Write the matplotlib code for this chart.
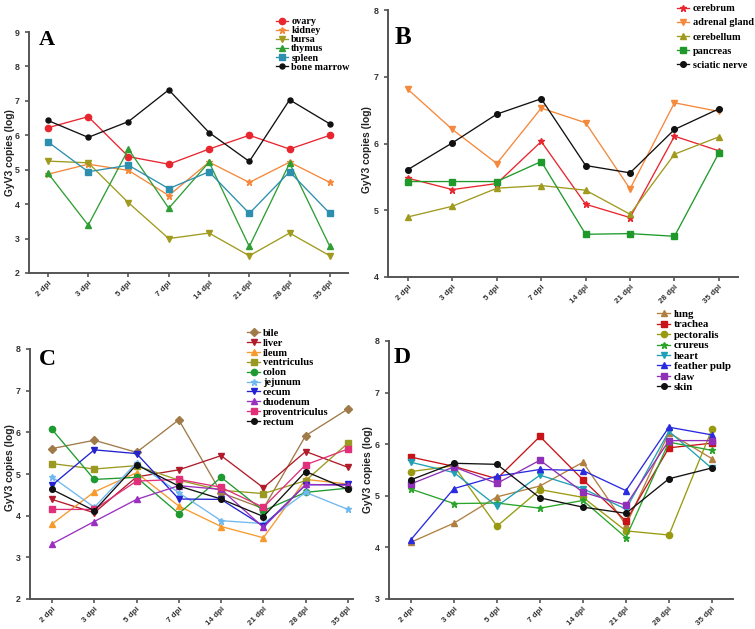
import matplotlib
matplotlib.use('Agg')
import matplotlib.pyplot as plt

days = ['2 dpi', '3 dpi', '5 dpi', '7 dpi', '14 dpi', '21 dpi', '28 dpi', '35 dpi']

# panel A
ovary = [6.22, 6.54, 5.38, 5.16, 5.60, 6.00, 5.60, 6.00]
kidney = [4.87, 5.16, 4.98, 4.25, 5.22, 4.63, 5.22, 4.63]
bursa = [5.25, 5.20, 4.04, 3.00, 3.16, 2.50, 3.16, 2.50]
thymus = [4.90, 3.39, 5.60, 3.88, 5.22, 2.77, 5.19, 2.77]
spleen = [5.81, 4.94, 5.13, 4.45, 4.94, 3.73, 4.94, 3.73]
bone_marrow = [6.43, 5.94, 6.40, 7.32, 6.08, 5.24, 7.03, 6.33]

# panel B
cerebrum = [5.48, 5.31, 5.40, 6.03, 5.09, 4.89, 6.11, 5.89]
adrenal = [6.81, 6.21, 5.70, 6.53, 6.31, 5.32, 6.61, 6.48]
cerebellum = [4.90, 5.06, 5.33, 5.37, 5.30, 4.94, 5.84, 6.10]
pancreas = [5.43, 5.43, 5.43, 5.73, 4.64, 4.65, 4.61, 5.86]
sciatic = [5.61, 6.01, 6.44, 6.67, 5.67, 5.56, 6.21, 6.52]

# panel C
bile = [5.61, 5.81, 5.52, 6.30, 4.55, 4.17, 5.92, 6.56]
liver = [4.39, 4.07, 4.93, 5.10, 5.44, 4.67, 5.54, 5.16]
ileum = [3.80, 4.57, 5.03, 4.23, 3.74, 3.47, 4.87, 4.76]
ventriculus = [5.25, 5.12, 5.20, 4.85, 4.61, 4.53, 4.84, 5.74]
colon = [6.07, 4.87, 4.92, 4.05, 4.92, 4.12, 4.56, 4.66]
jejunum = [4.93, 4.20, 5.27, 4.55, 3.88, 3.81, 4.56, 4.15]
cecum = [4.73, 5.58, 5.49, 4.40, 4.39, 3.75, 4.74, 4.75]
duodenum = [3.32, 3.86, 4.39, 4.72, 4.63, 3.72, 4.75, 4.73]
proventriculus = [4.15, 4.15, 4.83, 4.87, 4.68, 4.20, 5.22, 5.60]
rectum = [4.63, 4.12, 5.22, 4.71, 4.40, 3.98, 5.06, 4.63]

# panel D
lung = [4.10, 4.47, 4.98, 5.19, 5.65, 4.43, 6.22, 5.72]
trachea = [5.75, 5.57, 5.33, 6.15, 5.31, 4.51, 5.93, 6.02]
pectoralis = [5.47, 5.58, 4.41, 5.12, 4.97, 4.32, 4.24, 6.29]
crureus = [5.13, 4.85, 4.86, 4.76, 4.91, 4.19, 6.04, 5.88]
heart = [5.65, 5.45, 4.80, 5.40, 5.14, 4.74, 6.25, 5.53]
feather_pulp = [4.15, 5.14, 5.38, 5.51, 5.49, 5.10, 6.33, 6.18]
claw = [5.23, 5.56, 5.24, 5.69, 5.07, 4.82, 6.07, 6.07]
skin = [5.31, 5.63, 5.61, 4.96, 4.78, 4.66, 5.33, 5.54]

W, H = 755, 629
fig = plt.figure(figsize=(W / 100, H / 100), dpi=100)


def px_axes(l, r, t, b):
    return fig.add_axes([l / W, 1 - b / H, (r - l) / W, (b - t) / H])


def panel(ax, series, ylim, xlim, letter, let_xy, let_fs, leg_xy, leg_fs, leg_sp, ms=4.5):
    x = list(range(len(days)))
    for name, vals, col, mk, m in series:
        ax.plot(x, vals, color=col, marker=mk, markersize=ms * m, lw=0.95, label=name)
    ax.set_xlim(*xlim)
    ax.set_ylim(*ylim)
    ax.set_yticks(range(ylim[0], ylim[1] + 1))
    ax.set_xticks(x)
    ax.set_xticklabels(days, rotation=45, ha='right', rotation_mode='anchor')
    for s in ['top', 'right']:
        ax.spines[s].set_visible(False)
    for s in ['left', 'bottom']:
        ax.spines[s].set_color('#555555')
        ax.spines[s].set_linewidth(1.4)
    ax.tick_params(colors='#555555', length=3, width=1.2, labelsize=6.3)
    ax.tick_params(axis='x', labelsize=5.8, pad=2)
    for lab in ax.get_xticklabels() + ax.get_yticklabels():
        lab.set_fontweight('bold')
        lab.set_color('#333333')
        lab.set_family('Liberation Sans')
    fig.text(let_xy[0] / W, 1 - let_xy[1] / H, letter, fontsize=let_fs, fontweight='bold',
             family='Liberation Serif', va='top', ha='left')
    ax.legend(loc='upper left', bbox_to_anchor=(leg_xy[0] / W, 1 - leg_xy[1] / H),
              bbox_transform=fig.transFigure, frameon=False, borderpad=0,
              handlelength=1.2, handletextpad=0.3, labelspacing=leg_sp,
              prop={'family': 'Liberation Serif', 'weight': 'bold', 'size': leg_fs})


axA = px_axes(29, 348, 32, 273)
panel(axA, [
    ('ovary', ovary, '#e8262f', 'o', 1.0),
    ('kidney', kidney, '#f5883a', '*', 1.0),
    ('bursa', bursa, '#a09a1e', 'v', 1.0),
    ('thymus', thymus, '#2f9e34', '^', 1.0),
    ('spleen', spleen, '#2b8fad', 's', 1.0),
    ('bone marrow', bone_marrow, '#111111', 'o', 0.8),
], (2, 9), (-0.47, 7.45), 'A', (39, 30), 16, (271, 12), 7.3, 0.0)

axB = px_axes(388, 738, 10, 277)
panel(axB, [
    ('cerebrum', cerebrum, '#e8262f', '*', 1.0),
    ('adrenal gland', adrenal, '#f5883a', 'v', 1.0),
    ('cerebellum', cerebellum, '#a09a1e', '^', 1.0),
    ('pancreas', pancreas, '#1f9a2a', 's', 1.1),
    ('sciatic nerve', sciatic, '#111111', 'o', 0.9),
], (4, 8), (-0.45, 7.43), 'B', (395, 26), 18, (672, -1), 7.4, 0.48)

axC = px_axes(30, 353, 349, 599)
panel(axC, [
    ('bile', bile, '#a07a48', 'D', 0.8),
    ('liver', liver, '#b01c2a', 'v', 1.0),
    ('ileum', ileum, '#f79a2e', '^', 1.0),
    ('ventriculus', ventriculus, '#9a9a22', 's', 1.1),
    ('colon', colon, '#1e9a30', 'o', 1.0),
    ('jejunum', jejunum, '#6fb8f0', '*', 1.0),
    ('cecum', cecum, '#2222d0', 'v', 1.0),
    ('duodenum', duodenum, '#9a30c0', '^', 1.0),
    ('proventriculus', proventriculus, '#e0307a', 's', 1.0),
    ('rectum', rectum, '#111111', 'o', 0.9),
], (2, 8), (-0.52, 7.12), 'C', (39, 349), 17, (242, 323), 7.6, 0.05)

axD = px_axes(389, 733, 341, 599)
panel(axD, [
    ('lung', lung, '#b08040', '^', 1.0),
    ('trachea', trachea, '#c81418', 's', 1.1),
    ('pectoralis', pectoralis, '#9a9a10', 'o', 1.0),
    ('crureus', crureus, '#2aa52a', '*', 1.0),
    ('heart', heart, '#20a0b4', 'v', 1.0),
    ('feather pulp', feather_pulp, '#2a2ae0', '^', 1.0),
    ('claw', claw, '#9030b8', 's', 1.1),
    ('skin', skin, '#111111', 'o', 0.9),
], (3, 8), (-0.51, 7.49), 'D', (394, 347), 17, (652, 304), 7.8, 0.08)

ylab = 'GyV3 copies (log)'
for (xx, yy) in [(10, 153), (367, 150), (10, 468), (368, 470)]:
    fig.text(xx / W, 1 - yy / H, ylab, rotation=90, ha='center', va='center',
             fontsize=7.4, fontweight='bold', family='Liberation Sans', color='#222222')

fig.savefig('out.png', dpi=100)
